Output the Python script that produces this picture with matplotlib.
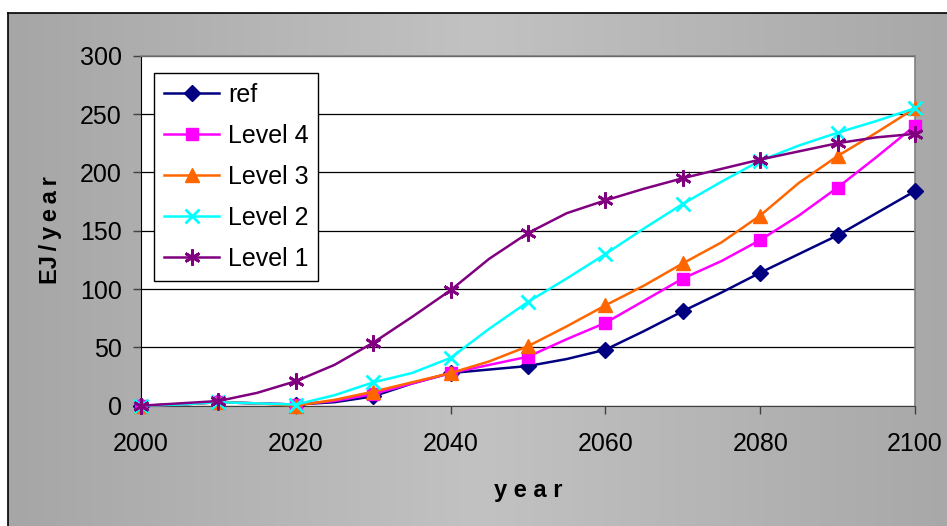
import numpy as np
import matplotlib
matplotlib.use("Agg")
import matplotlib.pyplot as plt
from matplotlib.colors import LinearSegmentedColormap

plt.rcParams["font.family"] = ["Liberation Sans", "DejaVu Sans"]

years = list(range(2000, 2101, 5))
ref    = [0, 1, 3, 2, 1, 3, 8, 19, 28, 31, 34, 40, 48, 64, 81, 97, 114, 130, 146, 165, 184]
level4 = [0, 1, 3, 2, 1, 4, 10, 19, 28, 35, 42, 57, 71, 90, 109, 124, 142, 163, 187, 213, 240]
level3 = [0, 1, 3, 2, 0, 5, 12, 20, 28, 38, 51, 68, 86, 103, 122, 140, 163, 191, 214, 234, 255]
level2 = [0, 1, 3, 2, 1, 9, 20, 28, 41, 66, 89, 109, 130, 152, 173, 192, 210, 223, 234, 244, 255]
level1 = [0, 2, 4, 11, 21, 35, 54, 76, 99, 126, 148, 165, 176, 186, 195, 203, 211, 218, 225, 230, 233]

series = [
    ("ref", ref, "#000080", "D", 8.5),
    ("Level 4", level4, "#FF00FF", "s", 8.5),
    ("Level 3", level3, "#FF6600", "^", 10.5),
    ("Level 2", level2, "#00FFFF", "x", 10.5),
    ("Level 1", level1, "#800080", (6, 2, 0), 11.5),
]

fig = plt.figure(figsize=(9.47, 5.26), dpi=100)

# grey gradient chart area
bg = fig.add_axes([8 / 947, 0, 1 - 8 / 947, 1 - 13 / 526])
cmap = LinearSegmentedColormap.from_list("g", ["#A6A6A6", "#C2C2C2", "#A8A8A8"])
grad = np.linspace(0, 1, 256).reshape(1, -1)
bg.imshow(grad, aspect="auto", cmap=cmap, extent=[0, 1, 0, 1])
bg.set_xlim(0, 1)
bg.set_ylim(0, 1)
bg.set_xticks([])
bg.set_yticks([])
for s in ["right", "bottom"]:
    bg.spines[s].set_visible(False)
for s in ["left", "top"]:
    bg.spines[s].set_color("black")
    bg.spines[s].set_linewidth(1.2)

ax = fig.add_axes([141 / 947, 1 - 405.7 / 526, 774 / 947, 350 / 526])
ax.set_facecolor("white")
for name, vals, col, mk, ms in series:
    ax.plot(years, vals, color=col, lw=1.8, marker=mk, markersize=ms,
            markevery=2, markeredgewidth=2 if mk == "x" or isinstance(mk, tuple) else 1,
            clip_on=False, label=name, zorder=3)

ax.set_xlim(2000, 2100)
ax.set_ylim(0, 300)
ax.set_xticks(range(2000, 2101, 20))
ax.set_yticks(range(0, 301, 50))
ax.yaxis.grid(True, color="black", lw=0.9)
ax.set_axisbelow(True)
ax.tick_params(axis="both", labelsize=18, length=6, width=1, color="#404040")
ax.tick_params(axis="y", pad=8)
ax.tick_params(axis="x", pad=13)
for s in ["top", "right"]:
    ax.spines[s].set_color("#808080")
    ax.spines[s].set_linewidth(1.2)
ax.spines["left"].set_color("black")
ax.spines["bottom"].set_color("#404040")

leg = ax.legend(loc="upper left", bbox_to_anchor=(154 / 947, 1 - 73 / 526),
                bbox_transform=fig.transFigure, fontsize=18, frameon=True,
                fancybox=False, edgecolor="black", framealpha=1,
                handlelength=2.2, handletextpad=0.35, labelspacing=0.68,
                borderpad=0.4, borderaxespad=0)
leg.get_frame().set_linewidth(1)

fig.text(51 / 947, 1 - 230 / 526, "EJ\u2009/\u2009y\u2009e\u2009a\u2009r",
         rotation=90, ha="center", va="center", fontsize=17, fontweight="bold")
fig.text(528 / 947, 1 - 490 / 526, "y e a r", ha="center", va="center",
         fontsize=17, fontweight="bold")

fig.savefig("out.png", dpi=100)
